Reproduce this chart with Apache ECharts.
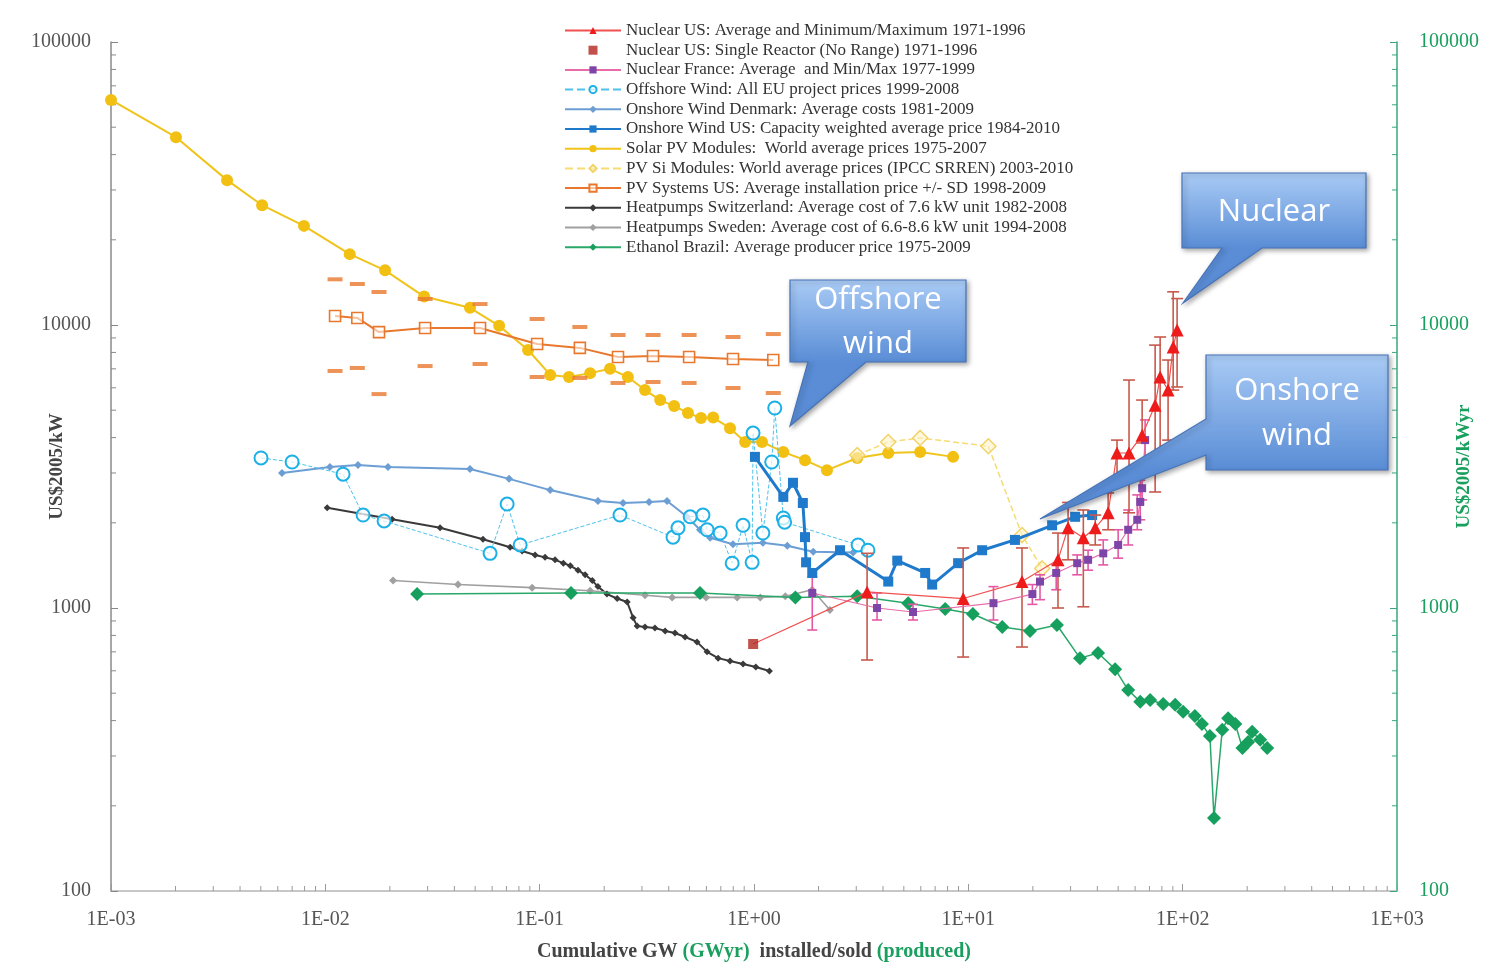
<!DOCTYPE html>
<html>
<head>
<meta charset="utf-8">
<script src="https://cdn.jsdelivr.net/npm/echarts@6/dist/echarts.min.js"></script>
<style>
html,body{margin:0;padding:0;background:#fff;overflow:hidden;}
#chart{width:1505px;height:964px;}
</style>
</head>
<body>
<div id="chart"></div>
<script>
// ---------------- DATA ----------------
const xTickLabels = ['1E-03','1E-02','1E-01','1E+00','1E+01','1E+02','1E+03'];
const yTickLabels = ['100','1000','10000','100000'];
const xDecades = [0.001,0.01,0.1,1,10,100];
const yDecades = [100,1000,10000];
const minorSteps = [2,3,4,5,6,7,8,9];

const seriesNames = [
  'Nuclear US: Average and Minimum/Maximum 1971-1996',
  'Nuclear US: Single Reactor (No Range) 1971-1996',
  'Nuclear France: Average  and Min/Max 1977-1999',
  'Offshore Wind: All EU project prices 1999-2008',
  'Onshore Wind Denmark: Average costs 1981-2009',
  'Onshore Wind US: Capacity weighted average price 1984-2010',
  'Solar PV Modules:  World average prices 1975-2007',
  'PV Si Modules: World average prices (IPCC SRREN) 2003-2010',
  'PV Systems US: Average installation price +/- SD 1998-2009',
  'Heatpumps Switzerland: Average cost of 7.6 kW unit 1982-2008',
  'Heatpumps Sweden: Average cost of 6.6-8.6 kW unit 1994-2008',
  'Ethanol Brazil: Average producer price 1975-2009'
];

// [cumulative GW, US$2005/kW]
const solarPV = [[0.001,62400],[0.00201,46100],[0.00348,32500],[0.00507,26500],[0.00795,22400],[0.0130,17800],[0.0190,15600],[0.0289,12600],[0.0473,11500],[0.0647,9930],[0.0883,8160],[0.112,6660],[0.137,6550],[0.172,6760],[0.213,7000],[0.258,6550],[0.310,5890],[0.365,5430],[0.424,5170],[0.492,4890],[0.566,4690],[0.645,4710],[0.773,4320],[0.909,3860],[1.09,3860],[1.37,3560],[1.73,3330],[2.19,3070],[3.03,3390],[4.23,3530],[5.96,3560],[8.49,3420]];
const pvSi = [[3.03,3470],[4.23,3860],[5.96,3990],[12.4,3730],[17.8,1810],[22.1,1380]];

const pvSysX    = [0.0111,0.0141,0.0178,0.0292,0.0527,0.0973,0.154,0.232,0.338,0.498,0.798,1.23];
const pvSysAvg  = [10760,10590,9440,9760,9760,8570,8300,7710,7770,7710,7580,7520];
const pvSysHigh = [14500,13960,13080,12360,11860,10500,9840,9220,9220,9220,9070,9290];
const pvSysLow  = [6880,7050,5700,7160,7280,6550,6500,6240,6290,6240,5990,5750];

const windDenmark = [[0.00628,3000],[0.0105,3150],[0.0142,3200],[0.0196,3150],[0.0473,3100],[0.0720,2860],[0.112,2610],[0.187,2390],[0.245,2350],[0.324,2370],[0.393,2390],[0.487,2100],[0.560,1890],[0.624,1770],[0.798,1680],[1.10,1700],[1.43,1660],[1.89,1580],[2.90,1570]];
const windOffshore = [[0.00501,3390],[0.0070,3280],[0.0121,2970],[0.0150,2130],[0.0188,2030],[0.0587,1560],[0.0705,2330],[0.0811,1670],[0.237,2130],[0.419,1780],[0.442,1920],[0.504,2100],[0.578,2130],[0.604,1890],[0.695,1840],[0.791,1440],[0.889,1960],[0.980,1450],[0.99,4150],[1.10,1840],[1.21,3280],[1.25,5090],[1.37,2080],[1.39,2010],[3.06,1670],[3.40,1600]];
const windUS = [[1.01,3420],[1.37,2470],[1.52,2770],[1.69,2350],[1.73,1780],[1.75,1450],[1.87,1330],[2.52,1600],[4.23,1240],[4.66,1470],[6.29,1330],[6.78,1210],[8.96,1440],[11.6,1600],[16.5,1740],[24.6,1960],[31.5,2100],[37.8,2130]];

const hpSwiss = [[0.0102,2260],[0.0205,2060],[0.0343,1920],[0.0544,1750],[0.0728,1640],[0.0828,1590],[0.0952,1540],[0.106,1510],[0.118,1480],[0.129,1440],[0.139,1410],[0.151,1360],[0.163,1310],[0.176,1250],[0.187,1190],[0.206,1120],[0.230,1080],[0.256,1050],[0.273,923],[0.285,863],[0.310,857],[0.345,850],[0.385,830],[0.428,816],[0.477,790],[0.542,759],[0.604,700],[0.680,665],[0.773,650],[0.889,634],[1.02,619],[1.18,599]];
const hpSweden = [[0.0207,1250],[0.0416,1210],[0.0922,1180],[0.172,1150],[0.310,1110],[0.415,1090],[0.598,1090],[0.834,1090],[1.07,1090],[1.40,1100],[1.87,1160],[2.26,984]];

// GWyr produced, US$2005/kWyr (right axis)
const ethanol = [[0.0268,1120],[0.140,1130],[0.560,1130],[1.56,1090],[3.03,1100],[5.24,1040],[7.80,991],[10.5,952],[14.4,857],[19.4,830],[25.9,871],[33.2,665],[40.3,693],[48.4,608],[55.7,513],[63.4,466],[70.5,473],[81.1,458],[92.3,455],[100.5,430],[114,415],[123,389],[134,353],[140,181],[153,371],[163,408],[176,389],[190,320],[202,336],[211,365],[230,342],[248,320]];

const nucUSSingle = [[0.991,746]];
const nucUSX    = [3.37,9.46,17.8,26.2,29.2,34.4,39.1,44.9,49.4,56.2,64.7,74.4,78.5,85.5,90.3,94.2];
const nucUSAvg  = [1140,1080,1240,1480,1920,1770,1920,2170,3530,3530,4080,5210,6550,5890,8360,9600];
const nucUSLow  = [655,671,728,1000,1480,1010,1670,1890,2830,2170,3830,2570,3150,3920,5890,6040];
const nucUSHigh = [1560,1630,1630,1840,2360,2220,2130,2550,3920,6390,5430,8490,9070,7520,13100,12400];

const nucFRX    = [1.87,3.75,5.52,13.1,19.9,21.6,25.7,32.2,36.2,42.6,50.0,55.7,61.4,63.4,64.7,66.8];
const nucFRAvg  = [1130,1000,968,1040,1120,1240,1330,1440,1480,1560,1670,1890,2050,2370,2650,3920];
const nucFRLow  = [836,907,907,907,1030,1070,1160,1310,1360,1420,1500,1670,1890,2050,2410,3330];
const nucFRHigh = [1290,1130,1030,1190,1210,1310,1420,1540,1600,1740,1890,2220,2510,2830,3070,4620];

// ---------------- BUILD ----------------
const zip2 = (xs, ys) => xs.map((x, i) => [x, ys[i]]);
const zip3 = (xs, a, b) => xs.map((x, i) => [x, a[i], b[i]]);

function errRender(color, cap) {
  return function (params, api) {
    const x = api.value(0), lo = api.value(1), hi = api.value(2);
    const p1 = api.coord([x, lo]), p2 = api.coord([x, hi]);
    const st = { stroke: color, lineWidth: 1.6 };
    return { type: 'group', children: [
      { type: 'line', shape: { x1: p1[0], y1: p1[1], x2: p2[0], y2: p2[1] }, style: st },
      { type: 'line', shape: { x1: p1[0] - cap, y1: p1[1], x2: p1[0] + cap, y2: p1[1] }, style: st },
      { type: 'line', shape: { x1: p2[0] - cap, y1: p2[1], x2: p2[0] + cap, y2: p2[1] }, style: st }
    ]};
  };
}

function minorTicks(params, api) {
  const ch = [];
  xDecades.forEach(d => minorSteps.forEach(m => {
    const c = api.coord([d * m, 100]);
    ch.push({ type: 'line', shape: { x1: c[0], y1: c[1], x2: c[0], y2: c[1] - 5 }, style: { stroke: '#9a9a9a', lineWidth: 1 } });
  }));
  yDecades.forEach(d => minorSteps.forEach(m => {
    const c = api.coord([0.001, d * m]);
    ch.push({ type: 'line', shape: { x1: c[0], y1: c[1], x2: c[0] + 5, y2: c[1] }, style: { stroke: '#8a8a8a', lineWidth: 1 } });
    const c2 = api.coord([1000, d * m]);
    ch.push({ type: 'line', shape: { x1: c2[0], y1: c2[1], x2: c2[0] - 5, y2: c2[1] }, style: { stroke: '#3aa878', lineWidth: 1 } });
  }));
  return { type: 'group', children: ch };
}

const SERIF = '"Liberation Serif", "DejaVu Serif", serif';
const GREEN = '#1aa05e';

const chart = echarts.init(document.getElementById('chart'), null, { renderer: 'canvas' });

const nucUSLine = [{ value: nucUSSingle[0], symbol: 'none' }].concat(zip2(nucUSX, nucUSAvg));

function calloutGrad(y0, y1) {
  return new echarts.graphic.LinearGradient(0, y0, 0, y1, [
    { offset: 0, color: '#a9cbf5' }, { offset: 1, color: '#5a8dd6' }
  ], true);
}
function callout(points, y0, y1) {
  return {
    type: 'polygon', z: 100, shape: { points: points },
    style: { fill: calloutGrad(y0, y1), stroke: '#4673b8', lineWidth: 1.2,
      shadowBlur: 5, shadowColor: 'rgba(0,0,0,0.35)', shadowOffsetX: 2, shadowOffsetY: 2 }
  };
}
function ctext(t, x, y) {
  return { type: 'text', z: 101, x: x, y: y,
    style: { text: t, fill: '#ffffff', fontSize: 31, fontFamily: '"Open Sans", "Noto Sans", sans-serif', align: 'center', verticalAlign: 'middle' } };
}

const legendData = seriesNames.map((n, i) => i === 1 ? { name: n, icon: 'path://M0,0L10,0L10,10L0,10Z' } : { name: n });

const option = {
  animation: false,
  backgroundColor: '#ffffff',
  grid: { left: 111, right: 108, top: 42, bottom: 73, containLabel: false, outerBoundsMode: 'none' },
  legend: {
    data: legendData, orient: 'vertical', left: 559, top: 17,
    itemWidth: 56, itemHeight: 9, itemGap: 2.7, selectedMode: false,
    textStyle: { fontFamily: SERIF, fontSize: 17, color: '#333', lineHeight: 15, padding: [0, 0, 0, 0] }
  },
  xAxis: {
    type: 'log', logBase: 10, min: 0.001, max: 1000, splitNumber: 6,
    axisLine: { show: true, onZero: false, lineStyle: { color: '#b5b5b5', width: 1.5 } },
    axisTick: { show: true, inside: true, length: 7, lineStyle: { color: '#999' } },
    splitLine: { show: false },
    axisLabel: { margin: 19, fontFamily: SERIF, fontSize: 20, color: '#555',
      formatter: v => xTickLabels[Math.round(Math.log10(v)) + 3] },
    name: '{a|Cumulative GW }{g|(GWyr)}{a|  installed/sold }{g|(produced)}',
    nameLocation: 'middle', nameGap: 51, nameMoveOverlap: false,
    nameTextStyle: { rich: {
      a: { fontFamily: SERIF, fontSize: 20, fontWeight: 'bold', color: '#444' },
      g: { fontFamily: SERIF, fontSize: 20, fontWeight: 'bold', color: GREEN }
    } }
  },
  yAxis: [{
    type: 'log', logBase: 10, min: 100, max: 100000, splitNumber: 3, position: 'left',
    axisLine: { show: true, onZero: false, lineStyle: { color: '#8a8a8a', width: 1.5 } },
    axisTick: { show: true, inside: true, length: 7, lineStyle: { color: '#888' } },
    splitLine: { show: false },
    axisLabel: { margin: 20, fontFamily: SERIF, fontSize: 20, color: '#555',
      formatter: v => yTickLabels[Math.round(Math.log10(v)) - 2] },
    name: 'US$2005/kW', nameLocation: 'middle', nameGap: 44, nameRotate: 90, nameMoveOverlap: false,
    nameTextStyle: { fontFamily: SERIF, fontSize: 19, fontWeight: 'bold', color: '#444' }
  }, {
    type: 'log', logBase: 10, min: 100, max: 100000, splitNumber: 3, position: 'right',
    axisLine: { show: true, onZero: false, lineStyle: { color: '#3aa878', width: 1.5 } },
    axisTick: { show: true, inside: true, length: 7, lineStyle: { color: '#3aa878' } },
    splitLine: { show: false },
    axisLabel: { margin: 22, fontFamily: SERIF, fontSize: 20, color: GREEN,
      formatter: v => yTickLabels[Math.round(Math.log10(v)) - 2] },
    name: 'US$2005/kWyr', nameLocation: 'middle', nameGap: 58, nameRotate: 90, nameMoveOverlap: false,
    nameTextStyle: { fontFamily: SERIF, fontSize: 19, fontWeight: 'bold', color: GREEN }
  }],
  series: [
    { type: 'custom', name: 'minor', silent: true, z: 1, clip: false, data: [[0.001, 100]], encode: { x: 0, y: 1 }, renderItem: minorTicks },
    { type: 'line', name: seriesNames[6], data: solarPV, symbol: 'circle', symbolSize: 12, z: 3,
      itemStyle: { color: '#f2c012' }, lineStyle: { color: '#f0c41a', width: 2 } },
    { type: 'line', name: seriesNames[7], data: pvSi, symbol: 'diamond', symbolSize: 15, z: 3,
      itemStyle: { color: 'rgba(255,244,200,0.6)', borderColor: '#f2d36a', borderWidth: 1.5 },
      lineStyle: { color: '#f6dc72', width: 1.5, type: 'dashed' } },
    { type: 'scatter', name: 'PV SD', data: zip2(pvSysX, pvSysHigh).concat(zip2(pvSysX, pvSysLow)), symbol: 'rect', symbolSize: [15, 4], z: 3,
      itemStyle: { color: '#e8782e' } },
    { type: 'line', name: seriesNames[8], data: zip2(pvSysX, pvSysAvg), symbol: 'rect', symbolSize: 11, z: 3,
      itemStyle: { color: 'rgba(255,255,255,0.55)', borderColor: '#e8782e', borderWidth: 1.6 },
      lineStyle: { color: '#e8782e', width: 2 } },
    { type: 'line', name: seriesNames[4], data: windDenmark, symbol: 'diamond', symbolSize: 8, z: 3,
      itemStyle: { color: '#6c9ed4' }, lineStyle: { color: '#6c9ed4', width: 2 } },
    { type: 'line', name: seriesNames[9], data: hpSwiss, symbol: 'diamond', symbolSize: 7, z: 3,
      itemStyle: { color: '#3a3a3a' }, lineStyle: { color: '#3a3a3a', width: 2 } },
    { type: 'line', name: seriesNames[10], data: hpSweden, symbol: 'diamond', symbolSize: 8, z: 3,
      itemStyle: { color: '#a0a0a0' }, lineStyle: { color: '#a0a0a0', width: 1.6 } },
    { type: 'line', name: seriesNames[3], data: windOffshore, symbol: 'circle', symbolSize: 13, z: 4,
      itemStyle: { color: 'rgba(255,255,255,0.7)', borderColor: '#1cb0e6', borderWidth: 2 },
      lineStyle: { color: '#4ec2ec', width: 1, type: 'dashed' } },
    { type: 'line', name: seriesNames[11], yAxisIndex: 1, data: ethanol, symbol: 'diamond', symbolSize: 14, z: 4,
      itemStyle: { color: '#17a05d' }, lineStyle: { color: '#2aa86a', width: 1.5 } },
    { type: 'line', name: seriesNames[5], data: windUS, symbol: 'rect', symbolSize: 10, z: 5,
      itemStyle: { color: '#1f7acb' }, lineStyle: { color: '#1f7acb', width: 3 } },
    { type: 'custom', name: 'FR err', z: 5, data: zip3(nucFRX, nucFRLow, nucFRHigh), encode: { x: 0, y: [1, 2] }, renderItem: errRender('#e459a6', 5) },
    { type: 'line', name: seriesNames[2], data: zip2(nucFRX, nucFRAvg), symbol: 'rect', symbolSize: 8, z: 6,
      itemStyle: { color: '#7e45a8' }, lineStyle: { color: '#e86aa8', width: 1.2 } },
    { type: 'custom', name: 'US err', z: 6, data: zip3(nucUSX, nucUSLow, nucUSHigh), encode: { x: 0, y: [1, 2] }, renderItem: errRender('#c8594c', 6) },
    { type: 'line', name: seriesNames[0], data: nucUSLine, symbol: 'triangle', symbolSize: 13, z: 7,
      itemStyle: { color: '#ee1b1b' }, lineStyle: { color: '#f05050', width: 1.2 } },
    { type: 'scatter', name: seriesNames[1], data: nucUSSingle, symbol: 'rect', symbolSize: 10, z: 7,
      itemStyle: { color: '#b3261e' } }
  ],
  graphic: [
    callout([[1182,173],[1366,173],[1366,248],[1262,248],[1183,303],[1222,248],[1182,248]], 173, 248),
    ctext('Nuclear', 1274, 212),
    callout([[790,280],[966,280],[966,362],[866,362],[790,426],[808,362],[790,362]], 280, 362),
    ctext('Offshore', 878, 300),
    ctext('wind', 878, 344),
    callout([[1206,355],[1388,355],[1388,470],[1206,470],[1206,455],[1040,519],[1206,419]], 355, 470),
    ctext('Onshore', 1297, 391),
    ctext('wind', 1297, 436)
  ]
};
chart.setOption(option);
</script>
</body>
</html>
